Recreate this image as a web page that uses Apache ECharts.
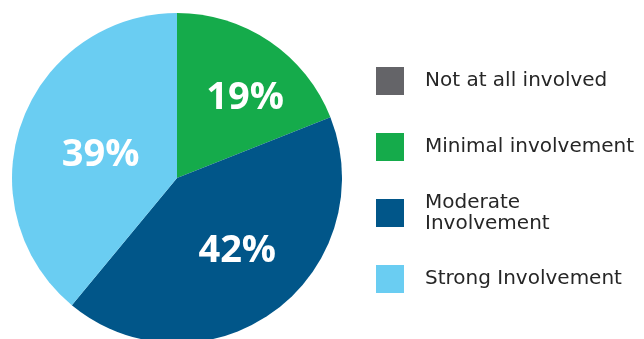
<!DOCTYPE html>
<html>
<head>
<meta charset="utf-8">
<script src="https://cdn.jsdelivr.net/npm/echarts@6/dist/echarts.min.js"></script>
<style>
  html, body { margin: 0; padding: 0; background: #ffffff; }
  #chart { width: 644px; height: 339px; }
</style>
</head>
<body>
<div id="chart"></div>
<script>
// Involvement levels and their share of responses (%)
const categories = ['Not at all involved', 'Minimal involvement', 'Moderate\nInvolvement', 'Strong Involvement'];
const shares = [0, 19, 42, 39];
const colors = ['#646468', '#15ab4b', '#015689', '#6acdf2'];

// Small nudges for the in-slice percentage labels (px)
const labelNudge = [[0, 0], [20, -9], [10, 4], [4, 6]];
// Vertical centre of each legend row (px)
const legendRowY = [81, 147, 213, 279];

const chart = echarts.init(document.getElementById('chart'), null, { renderer: 'canvas' });

const legends = categories.map((name, i) => {
  const lines = name.split('\n').length;
  const lineH = 21;
  const h = Math.max(28, lines * lineH);
  return {
    orient: 'vertical',
    left: 376,
    top: legendRowY[i] - h / 2,
    padding: 0,
    itemWidth: 28,
    itemHeight: 28,
    icon: 'rect',
    selectedMode: false,
    data: [{ name: name, itemStyle: { color: colors[i] } }],
    textStyle: {
      fontFamily: 'DejaVu Sans',
      fontSize: 20,
      color: '#262626',
      lineHeight: lineH,
      padding: [0, 0, 0, 16]
    }
  };
});

chart.setOption({
  animation: false,
  color: colors,
  legend: legends,
  series: [{
    type: 'pie',
    center: [177, 178],
    radius: [0, 165],
    startAngle: 90,
    clockwise: true,
    silent: true,
    itemStyle: { borderWidth: 0 },
    label: {
      show: true,
      position: 'inside',
      formatter: '{c}%',
      color: '#ffffff',
      fontFamily: 'Open Sans',
      fontWeight: 'bold',
      fontSize: 38,
      letterSpacing: -1.5
    },
    labelLine: { show: false },
    labelLayout: function (p) {
      const n = labelNudge[p.dataIndex];
      return { dx: n[0], dy: n[1] };
    },
    data: categories.map((name, i) => ({
      name: name,
      value: shares[i],
      label: { show: shares[i] > 0 }
    }))
  }]
});
</script>
</body>
</html>
